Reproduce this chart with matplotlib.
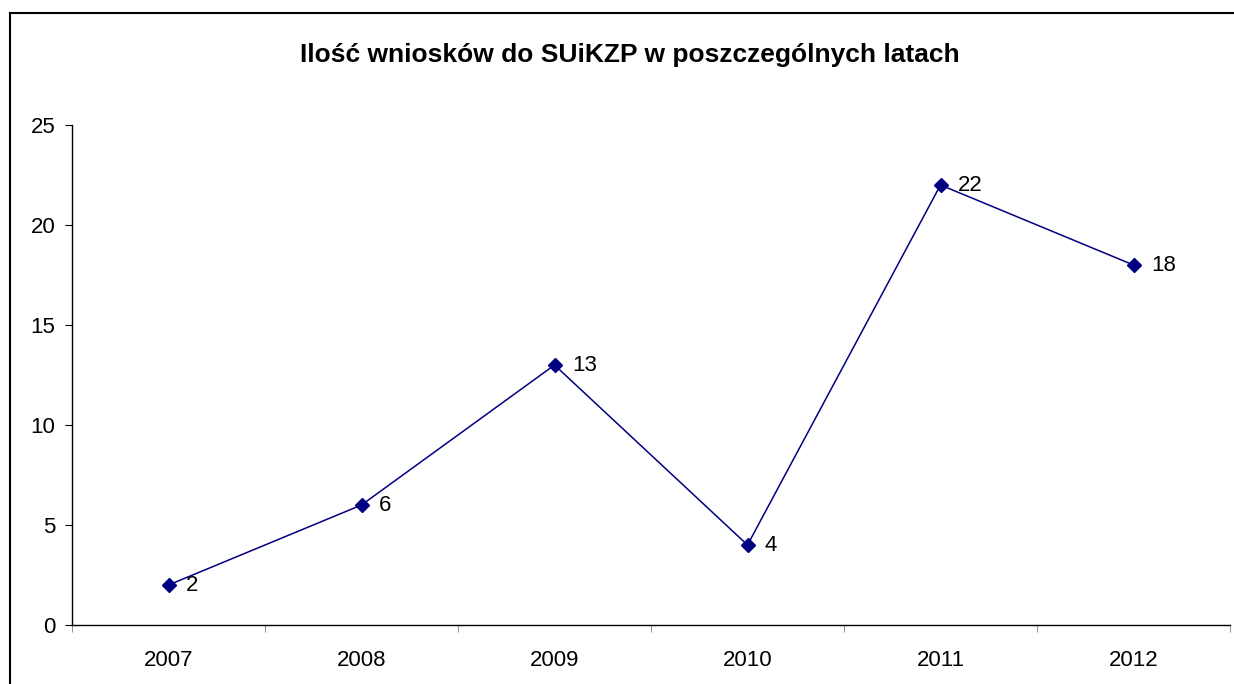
import matplotlib

matplotlib.use("Agg")
import matplotlib.pyplot as plt
from matplotlib.lines import Line2D
import numpy as np

plt.rcParams["font.family"] = ["Liberation Sans", "DejaVu Sans"]

years = ["2007", "2008", "2009", "2010", "2011", "2012"]
counts = [2, 6, 13, 4, 22, 18]
title = "Ilość wniosków do SUiKZP w poszczególnych latach"

W, H = 1234, 684
fig = plt.figure(figsize=(W / 100, H / 100), dpi=100)
ax = fig.add_axes([72 / W, 1 - 625 / H, (1230 - 72) / W, 500 / H])

x = np.arange(len(years))
ax.plot(x, counts, color="#000080", lw=1.1, marker="D", ms=6.8,
        markerfacecolor="#000080", markeredgecolor="#000080")
for xi, v in zip(x, counts):
    ax.annotate(str(v), (xi, v), xytext=(12.5, -0.5), textcoords="offset points",
                va="center", ha="left", fontsize=16)

ax.set_xlim(-0.5, len(years) - 0.5)
ax.set_ylim(0, 25)
ax.set_yticks(range(0, 26, 5))
ax.set_xticks(x, years)
ax.set_xticks(np.arange(-0.5, len(years)), minor=True)
ax.tick_params(axis="x", which="major", length=0, pad=18, labelsize=16)
ax.tick_params(axis="x", which="minor", length=5, direction="out",
               color="#808080")
ax.tick_params(axis="y", length=5, direction="out", labelsize=16, pad=7)
for s in ("top", "right"):
    ax.spines[s].set_visible(False)
for s in ("left", "bottom"):
    ax.spines[s].set_linewidth(1.0)

fig.text(630 / W, 1 - 55 / H, title, ha="center", va="center",
         fontsize=19, fontweight="bold")

# chart border (clipped at right and bottom in the original)
fig.add_artist(Line2D([10 / W, 1], [1 - 13 / H, 1 - 13 / H], color="black",
                      lw=1.5, transform=fig.transFigure))
fig.add_artist(Line2D([10 / W, 10 / W], [0, 1 - 13 / H], color="black",
                      lw=1.5, transform=fig.transFigure))

fig.savefig("out.png", dpi=100)
